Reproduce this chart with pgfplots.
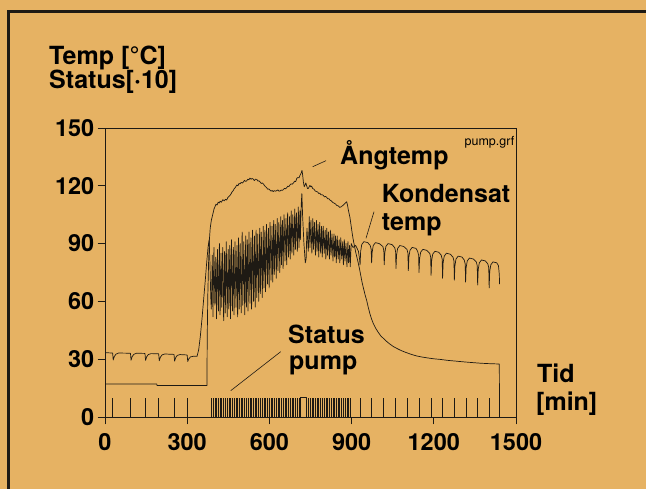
\documentclass[border=0pt]{standalone}
\usepackage{pgfplots}
\pgfplotsset{compat=1.18}
\usepackage{fontspec}
\setmainfont{TeX Gyre Heros}
\definecolor{paper}{RGB}{230,178,99}
\definecolor{ink}{RGB}{30,26,20}
\newcommand{\annfont}{\fontsize{25bp}{27bp}\selectfont\bfseries}
\newcommand{\tickfont}{\fontsize{23.5bp}{25bp}\selectfont\bfseries}
\pgfplotsset{curve/.style={no marks, color=ink, line width=0.7bp, line join=round}}

\begin{document}
\begin{tikzpicture}[x=1bp,y=1bp]
\fill[paper] (0,0) rectangle (646,489);
\useasboundingbox (0,0) rectangle (646,489);
% frame of the sheet
\draw[ink, line width=3bp] (8.3,-10) -- (8.3,477.8) -- (700,477.8);

\begin{axis}[
  at={(105bp,72bp)}, anchor=south west,
  scale only axis, width=411bp, height=289bp,
  xmin=0, xmax=1500, ymin=0, ymax=150,
  xtick={0,300,...,1500}, ytick={0,30,...,150},
  tick pos=left, tick align=outside,
  major tick length=7.5bp,
  axis line style={ink, line width=0.8bp},
  every tick/.style={ink, line width=0.8bp},
  tick label style={font=\tickfont, text=black},
  xticklabel style={inner sep=0pt, yshift=-9bp},
  yticklabel style={inner sep=0pt, xshift=-3bp},
  /pgf/number format/assume math mode=true,
  /pgf/number format/1000 sep={},
]
% Aangtemp
\addplot[curve] coordinates {
(0,17.1) (189,17.1) (190,16.3) (372,16.3) (373,40) (375,62) (378,80) (381,92) (384,98) (388,102) (393,105) (398,108) (401,109) (405,110.5) (409,110) (413,111.5) (417,111) (420,112) (425,111.5) (430,112.8) (435,112.2) (440,113) (444,112.6) (448,113.8) (452,114.5) (456,115) (460,115.8) (464,116.9) (468,117.5) (472,118.6) (476,119.2) (481,120.4) (485,120) (489,121.2) (493,121) (497,121.8) (501,121.4) (505,122) (509,122.8) (513,122.3) (517,122.5) (521,123.4) (525,123.1) (529,124) (533,123.4) (537,123.8) (541,123.5) (545,122.7) (549,123.4) (554,123.3) (558,122.4) (562,122.6) (566,122) (570,121.2) (574,121.5) (578,121) (582,120.1) (586,119.6) (590,119) (594,118.2) (598,118.4) (602,117.8) (606,117.2) (610,117.6) (614,117) (618,117.5) (622,117.2) (627,117.5) (631,117.9) (635,117.2) (639,117.3) (643,117.8) (647,117.6) (651,118) (655,118.7) (659,118.4) (663,119) (667,119.8) (671,119.6) (675,120.4) (679,121) (683,120.8) (688,121.5) (692,122.4) (696,122.2) (700,123.9) (704,124.3) (708,124.1) (712,125.5) (716,126.6) (719,128) (721,126) (724,122) (727,119.5) (730,120.4) (733,121.5) (736,120) (739,118.6) (742,118.6) (745,119.5) (748,120.2) (751,119.5) (754,119.8) (758,118.6) (763,118.2) (767,117.3) (772,117) (776,116.8) (780,116) (784,116.2) (788,115.3) (792,115.4) (797,115) (801,114.2) (805,114.5) (809,114) (813,113.2) (817,113.3) (821,112.6) (826,112.2) (831,111.4) (836,111) (841,110.6) (846,109.8) (852,109.5) (856,108.8) (861,109) (866,109.6) (870,110) (874,110.6) (878,111.2) (882,111.7) (885,110) (888,107.5) (891,105.5) (894,103.5) (897,100.5) (900,97.5) (903,94.5) (906,92) (910,89) (915,85.5) (920,82.5) (925,79.5) (930,76) (934,73) (938,70) (943,67) (949,63.5) (955,60.5) (961,56.8) (967,53.5) (973,50.8) (979,48.6) (988,46) (997,44) (1006,42.2) (1016,40.8) (1028,39.2) (1040,37.8) (1052,36.6) (1065,35.6) (1082,34.4) (1100,33.4) (1118,32.5) (1137,31.7) (1158,31.1) (1180,30.6) (1200,30.2) (1223,29.9) (1250,29.4) (1280,29) (1310,28.6) (1344,28.2) (1372,27.9) (1400,27.7) (1420,27.6) (1439,27.5) (1440,0)
};
% Kondensat temp
\addplot[curve] coordinates {
(0,33.4) (27,33.2) (28,33) (30,29.6) (34,31.4) (40,32.6) (50,33.2) (92,33.1) (93,32.9) (95,29.5) (99,31.3) (105,32.5) (115,33.1) (145,33) (146,32.8) (148,29.4) (152,31.2) (158,32.4) (168,32.9) (195,32.8) (196,32.6) (198,29.2) (202,31) (208,32.2) (218,32.7) (251,32.5) (252,32.3) (254,29) (258,30.8) (264,32) (274,32.4) (299,32.2) (300,32) (302,28.8) (306,30.2) (312,31.2) (322,31.5) (336,31.5) (342,35) (348,42) (354,51) (360,61) (366,71) (371,80) (376,88) (380,92) (383,80) (386,62)
(388,56) (391.5,84) (394,52) (397.5,88) (401,58) (404.5,83) (407,51) (410.5,87) (414,55) (417.5,90) (420,53) (423.5,85) (426,57) (429.5,88) (433,50) (436.5,86) (439,54) (442.5,91) (446,52) (449.5,87) (452,56) (455.5,89) (458,51) (461.5,92) (465,55) (468.5,88) (471,53) (474.5,91) (478,57) (481.5,89) (484,52) (487.5,93) (490,56) (493.5,90) (497,54) (500.5,96) (503,58) (506.5,91) (510,53) (513.5,94) (516,57) (519.5,92) (522,55) (525.5,96) (529,59) (532.5,93) (535,56) (538.5,97) (542,60) (545.5,94) (548,57) (551.5,97) (554,62) (557.5,95) (561,60) (564.5,98) (567,64) (570.5,96) (574,62) (577.5,99) (580,67) (583.5,97) (586,65) (589.5,100) (593,69) (596.5,98) (599,67) (602.5,101) (606,71) (609.5,99) (612,70) (615.5,102) (618,74) (621.5,100) (625,72) (628.5,103) (631,76) (634.5,101) (638,75) (641.5,104) (644,79) (647.5,102) (650,77) (653.5,105) (657,81) (660.5,103) (663,79) (666.5,106) (670,83) (673.5,104) (676,82) (679.5,107) (682,85) (685.5,105) (689,84) (692.5,108) (695,87) (698.5,106) (702,86) (705.5,109) (708,88) (711.5,107)
(713,92) (716,110) (718.5,116) (721,105) (726,90) (731,80) (734,82) (737,98)
(742,86) (745.5,104) (748,88) (751.5,102) (755,85) (758.5,103) (761,87) (764.5,101) (768,84) (771.5,102) (774,86) (777.5,100) (780,83) (783.5,101) (787,85) (790.5,99) (793,83) (796.5,99) (800,85) (803.5,97) (806,82) (809.5,98) (812,84) (815.5,96) (819,82) (822.5,97) (825,84) (828.5,95) (832,81) (835.5,95) (838,83) (841.5,94) (844,80) (847.5,94) (851,82) (854.5,92) (857,80) (860.5,93) (864,82) (867.5,91) (870,79) (873.5,92) (876,81) (879.5,90) (883,78) (886.5,91) (889,80) (892.5,89) (895,78) (898.5,90)
(905,88) (915,89) (925,86) (929,82)
(931,79) (933,86) (937,89.5) (945,91) (959,90.5) (968,89) (971.5,87)
(973,80) (975,85.5) (979,89) (987,90.5) (1001,90) (1014,88.5) (1017.5,86.5)
(1019,79) (1021,85) (1025,88.5) (1033,90) (1047,89.5) (1057,88) (1060.5,86)
(1062,77) (1064,84) (1068,87.5) (1076,89) (1090,88.5) (1102,87) (1105.5,85)
(1107,76) (1109,83) (1113,86.5) (1121,88) (1135,87.5) (1141,86) (1144.5,84)
(1146,75) (1148,82) (1152,85.5) (1160,87) (1174,86.5) (1185,85) (1188.5,83)
(1190,73.5) (1192,81) (1196,84.5) (1204,86) (1218,85.5) (1227,84) (1230.5,82)
(1232,72) (1234,80) (1238,83.5) (1246,85) (1260,84.5) (1270,83) (1273.5,81)
(1275,71) (1277,78.5) (1281,82) (1289,83.5) (1303,83) (1311,81.5) (1314.5,79.5)
(1316,70) (1318,77.5) (1322,81) (1330,82.5) (1344,82) (1355,80.5) (1358.5,78.5)
(1360,68.5) (1362,76.5) (1366,80) (1374,81.5) (1388,81) (1397,79.5) (1400.5,77.5)
(1402,67) (1404,75.5) (1408,79) (1416,80.5) (1430,80) (1436,78.5) (1439,74) (1440,69)
};
% Status pump (x10)
\addplot[curve, ycomb] coordinates {
(28,10) (93,10) (146,10) (196,10) (252,10) (300,10)
(388,10) (394,10) (401,10) (407,10) (414,10) (420,10) (426,10) (433,10) (439,10) (446,10) (452,10) (458,10) (465,10) (471,10) (478,10) (484,10) (490,10) (497,10) (503,10) (510,10) (516,10) (522,10) (529,10) (535,10) (542,10) (548,10) (554,10) (561,10) (567,10) (574,10) (580,10) (586,10) (593,10) (599,10) (606,10) (612,10) (618,10) (625,10) (631,10) (638,10) (644,10) (650,10) (657,10) (663,10) (670,10) (676,10) (682,10) (689,10) (695,10) (702,10) (708,10)
(742,10) (748,10) (755,10) (761,10) (768,10) (774,10) (780,10) (787,10) (793,10) (800,10) (806,10) (812,10) (819,10) (825,10) (832,10) (838,10) (844,10) (851,10) (857,10) (864,10) (870,10) (876,10) (883,10) (889,10) (895,10)
(931,10) (973,10) (1016,10) (1058,10) (1103,10) (1146,10) (1190,10) (1232,10) (1275,10) (1317,10) (1360,10) (1402,10)
};
\addplot[curve] coordinates {(713,0) (713,10) (736,10) (736,0)};
\end{axis}

% axis title
\node[anchor=base west, inner sep=0pt, font=\annfont] at (49,424) {Temp [°C]};
\node[anchor=base west, inner sep=0pt, font=\annfont] at (49,400.5) {Status[·10]};
% curve labels
\node[anchor=base west, inner sep=0pt, font=\annfont] at (340,324) {Ångtemp};
\node[anchor=base west, inner sep=0pt, font=\annfont] at (381.7,286) {Kondensat};
\node[anchor=base west, inner sep=0pt, font=\annfont] at (381.7,258) {temp};
\node[anchor=base west, inner sep=0pt, font=\annfont] at (288,145.7) {Status};
\node[anchor=base west, inner sep=0pt, font=\annfont] at (289,119.5) {pump};
\node[anchor=base west, inner sep=0pt, font=\annfont] at (537,106) {Tid};
\node[anchor=base west, inner sep=0pt, font=\annfont] at (536,78) {[min]};
\node[anchor=base east, inner sep=0pt, font=\fontsize{12.5bp}{14bp}\selectfont] at (514.5,343) {pump.grf};
\draw[ink, line width=0.6bp] (312.7,322.3) -- (326,328.3);
\draw[ink, line width=0.6bp] (366,250.7) -- (374,277.3);
\draw[ink, line width=0.6bp] (230.7,98.3) -- (280.7,137.3);
\end{tikzpicture}
\end{document}
